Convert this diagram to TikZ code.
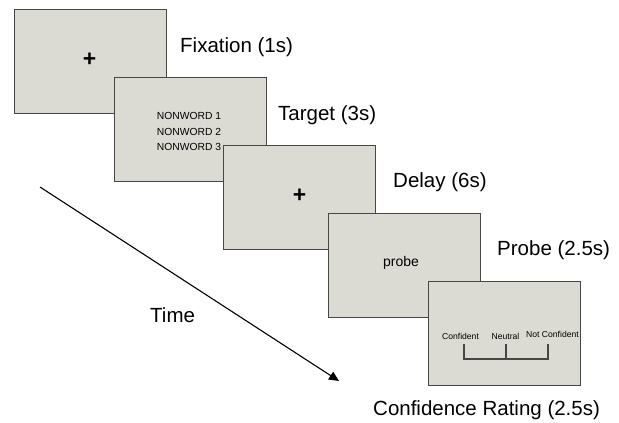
\documentclass[tikz,border=0pt]{standalone}
\usepackage{fontspec}
\setmainfont{Liberation Sans}
\usetikzlibrary{arrows.meta}
\definecolor{scr}{RGB}{219,219,212}
\definecolor{edge}{RGB}{70,70,70}
\tikzset{
  screen/.style={draw=edge, line width=1.2pt, fill=scr, rectangle, anchor=north west,
    minimum width=152pt, minimum height=104pt, inner sep=0pt},
  biglabel/.style={anchor=base west, inner sep=0pt, font=\fontsize{20.5pt}{24pt}\selectfont},
  small/.style={inner sep=0pt, font=\fontsize{8.6pt}{10pt}\selectfont},
  plus/.style={inner sep=0pt, font=\fontsize{23pt}{26pt}\selectfont\bfseries},
  scaleline/.style={draw=edge, line width=1.1pt},
}
\begin{document}
\begin{tikzpicture}[x=1pt,y=-1pt]
\useasboundingbox (0,0) rectangle (619,423);
% screens
\node[screen] (s1) at (14,9) {};
\node[plus] (p1) at (89.5,60) {+};
\node[screen] (s2) at (114,77) {};
\node[font=\fontsize{10.3pt}{15.5pt}\selectfont, align=center, inner sep=0pt] (nw) at (189,131.5) {NONWORD 1\\NONWORD 2\\NONWORD 3};
\node[screen] (s3) at (223,145) {};
\node[plus] (p3) at (299.5,196) {+};
\node[screen] (s4) at (328,213) {};
\node[font=\fontsize{14pt}{16pt}\selectfont, inner sep=0pt] (pr) at (401,263) {probe};
\node[screen] (s5) at (428,281) {};
\node[small] (c1) at (460.5,336) {Confident};
\node[small] (c2) at (505.5,336) {Neutral};
\node[small] (c3) at (552.5,334.5) {Not Confident};
\coordinate (a1) at (464,344);
\coordinate (a2) at (506,344);
\coordinate (a3) at (548,344);
\coordinate (b1) at (464,359);
\coordinate (b2) at (506,359);
\coordinate (b3) at (548,359);
\draw[scaleline] (a1) -- (b1) -- (b3) -- (a3);
\draw[scaleline] (a2) -- (b2);
% labels
\node[biglabel] (l1) at (180,52.5) {Fixation (1s)};
\node[biglabel] (l2) at (278,120.5) {Target (3s)};
\node[biglabel] (l3) at (393,187) {Delay (6s)};
\node[biglabel] (l4) at (497,255.5) {Probe (2.5s)};
\node[biglabel] (l5) at (373,415.5) {Confidence Rating (2.5s)};
\node[biglabel] (lt) at (150,322.5) {Time};
% time arrow
\coordinate (t0) at (40,187);
\coordinate (t1) at (339,381);
\draw[line width=1.1pt, -{Triangle[length=10pt,width=9pt]}] (t0) -- (t1);
\end{tikzpicture}
\end{document}
